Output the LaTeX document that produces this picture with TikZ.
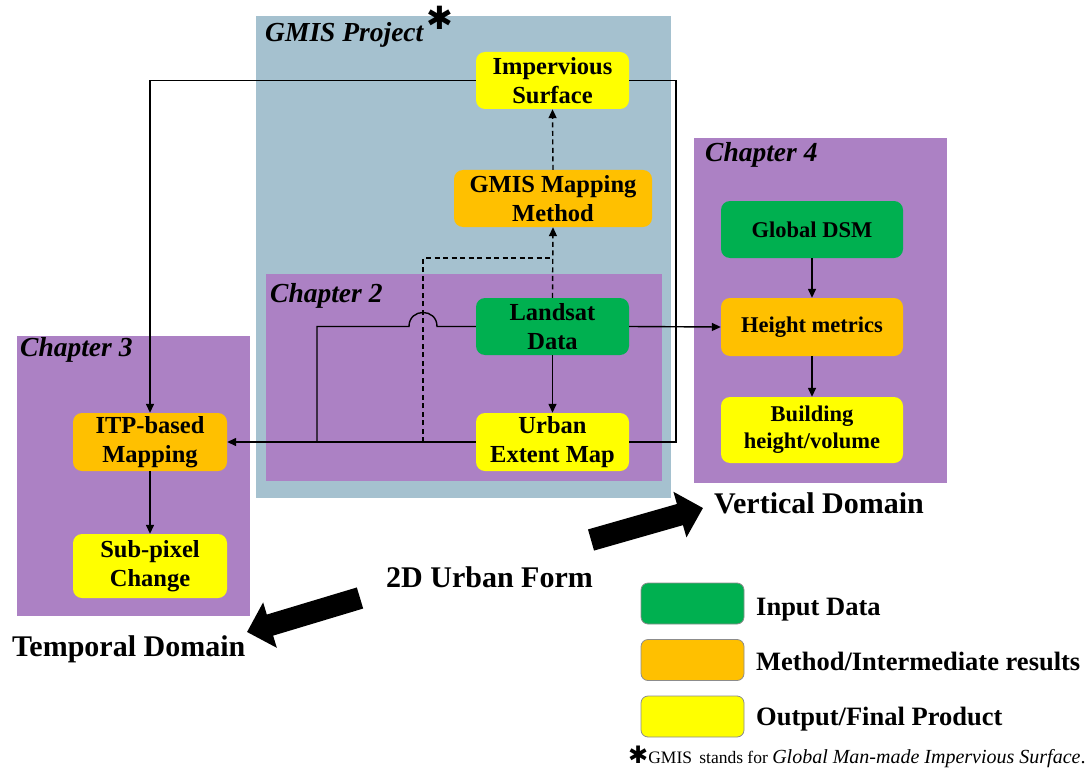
\documentclass[tikz,border=0pt]{standalone}
\usepackage{fontspec}
\setmainfont{Liberation Serif}
\newfontfamily\symfont{DejaVu Sans}
\usepackage{xcolor}
\usetikzlibrary{arrows.meta}

\definecolor{gmisblue}{RGB}{165,193,207}
\definecolor{chappurple}{RGB}{172,129,196}
\definecolor{ingreen}{RGB}{0,176,80}
\definecolor{methorange}{RGB}{255,192,0}
\definecolor{outyellow}{RGB}{255,255,0}

\newcommand{\flowfont}{\fontsize{24.5}{29}\selectfont\bfseries}
\newcommand{\vertfont}{\fontsize{22.5}{27}\selectfont\bfseries}
\newcommand{\chapfont}{\fontsize{27.5}{31}\selectfont\bfseries\itshape}
\newcommand{\domfont}{\fontsize{30}{34}\selectfont\bfseries}
\newcommand{\legfont}{\fontsize{26.5}{30}\selectfont\bfseries}
\newcommand{\heavystar}{{\symfont\char"2731}}

\tikzset{
  unitbox/.style={rounded corners=9pt, align=center, inner sep=0pt, font=\flowfont},
  inbox/.style={unitbox, fill=ingreen},
  methbox/.style={unitbox, fill=methorange},
  outbox/.style={unitbox, fill=outyellow},
  keybox/.style={rounded corners=7pt, draw=black!45, line width=0.8pt, minimum width=103pt, minimum height=41pt},
  flow/.style={line width=1.4pt, -{Triangle[length=9pt,width=8pt]}},
  link/.style={line width=1.4pt},
  dashlink/.style={line width=1.4pt, dash pattern=on 5pt off 3.5pt},
  bigarrow/.style={line width=22pt, -{Triangle[length=24pt,width=46pt]}}
}

\begin{document}
\begin{tikzpicture}[x=1pt,y=-1pt]
\useasboundingbox (0,0) rectangle (1086,770);

% frames
\fill [gmisblue] (256,16) rectangle (671,498); %GMIS project
\fill [chappurple] (266,274) rectangle (662,481); %ch 2
\fill [chappurple] (17,336) rectangle (250,616); %ch 3
\fill [chappurple] (694,138) rectangle (947,483); %ch 4

\node [anchor=base west, font=\chapfont, inner sep=0pt] (gmistitle) at (265,42) {GMIS Project};
\node [font=\fontsize{32}{32}\selectfont, inner sep=0pt] (gmisstar) at (440,18) {\heavystar};
\node [anchor=base west, font=\chapfont, inner sep=0pt] (ch2) at (270,302) {Chapter 2};
\node [anchor=base west, font=\chapfont, inner sep=0pt] (ch3) at (20,356) {Chapter 3};
\node [anchor=base west, font=\chapfont, inner sep=0pt] (ch4) at (705,162) {Chapter 4};

% boxes
\node [outbox, minimum width=153pt, minimum height=57pt] (imp) at (552.5,80.5) {Impervious\\Surface};
\node [methbox, minimum width=198pt, minimum height=57pt] (gmm) at (553,198.5) {GMIS Mapping\\Method};
\node [inbox, minimum width=153pt, minimum height=57pt] (lan) at (552.5,326.5) {Landsat\\Data};
\node [outbox, minimum width=153pt, minimum height=58pt] (uem) at (552.5,442) {Urban\\Extent Map};
\node [methbox, minimum width=154pt, minimum height=58pt] (itp) at (150,442) {ITP-based\\Mapping};
\node [outbox, minimum width=154pt, minimum height=64pt] (spc) at (150,566) {Sub-pixel\\Change};
\node [inbox, font=\vertfont, minimum width=182pt, minimum height=57pt] (dsm) at (812,229.5) {Global DSM};
\node [methbox, font=\vertfont, minimum width=182pt, minimum height=58pt] (hgt) at (812,327) {Height metrics};
\node [outbox, font=\vertfont, minimum width=182pt, minimum height=66pt] (bld) at (812,430) {Building\\height/volume};

% connectors
\coordinate (hopr) at (437,326.5);
\coordinate (hopl) at (409,326.5);
\coordinate (ljoin) at (317,442);
\coordinate (dfoot) at (423,442);
\coordinate (dbend) at (423,258);
\draw [dashlink, -{Triangle[length=9pt,width=8pt]}] (lan.north) -- (gmm.south);
\draw [dashlink, -{Triangle[length=9pt,width=8pt]}] (gmm.north) -- (imp.south);
\draw [dashlink] (dfoot) -- (dbend) -- (lan.north |- dbend);
\draw [flow] (imp.west) -| (itp.north);
\draw [link] (imp.east) -| (676,442) -- (uem.east);
\draw [flow] (uem.west) -- (itp.east);
\draw [link] (lan.west) -- (hopr) .. controls (437,307.8) and (409,307.8) .. (hopl) -| (ljoin); %hop over dashes
\draw [flow] (lan.south) -- (uem.north);
\draw [flow] (lan.east) -- (hgt.west);
\draw [flow] (dsm.south) -- (hgt.north);
\draw [flow] (hgt.south) -- (bld.north);
\draw [flow] (itp.south) -- (spc.north);

% domains
\node [anchor=base west, font=\domfont, inner sep=0pt] (urban) at (386,587) {2D Urban Form};
\node [anchor=base west, font=\domfont, inner sep=0pt] (tempdom) at (12,656) {Temporal Domain};
\node [anchor=base west, font=\domfont, inner sep=0pt] (vertdom) at (714,513) {Vertical Domain};
\coordinate (vtail) at (591,540);
\coordinate (vtip) at (703,508);
\coordinate (ttail) at (360,598);
\coordinate (ttip) at (247,632);
\draw [bigarrow] (vtail) -- (vtip);
\draw [bigarrow] (ttail) -- (ttip);

% legend
\node [keybox, fill=ingreen] (keyin) at (692.5,603.5) {};
\node [keybox, fill=methorange] (keymeth) at (692.5,660) {};
\node [keybox, fill=outyellow] (keyout) at (692.5,716.5) {};
\node [anchor=base west, font=\legfont, inner sep=0pt] (keyinlab) at (756,615) {Input Data};
\node [anchor=base west, font=\legfont, inner sep=0pt] (keymethlab) at (756,670) {Method/Intermediate results};
\node [anchor=base west, font=\legfont, inner sep=0pt] (keyoutlab) at (756,725) {Output/Final Product};

\node [anchor=base west, inner sep=0pt] (footnote) at (628,763) {{\fontsize{24}{24}\selectfont\heavystar}{\fontsize{17.5}{20}\selectfont GMIS\, stands for }{\fontsize{20}{22}\selectfont\itshape Global Man-made Impervious Surface}{\fontsize{20}{22}\selectfont .}};
\end{tikzpicture}
\end{document}
